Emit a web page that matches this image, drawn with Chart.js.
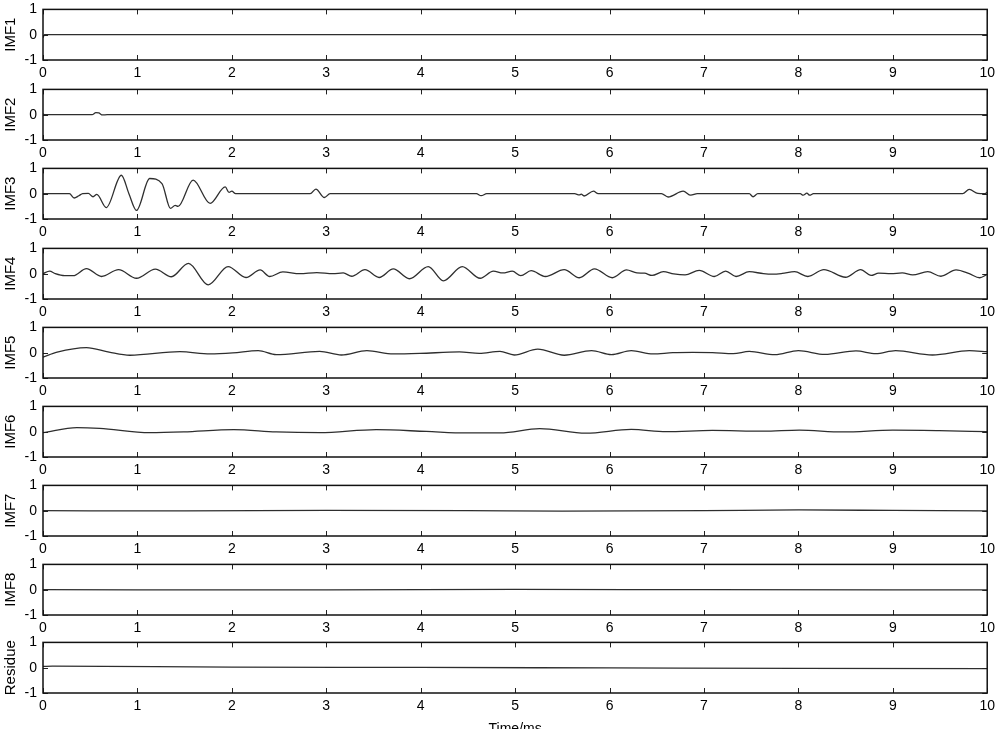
<!DOCTYPE html>
<html>
<head>
<meta charset="utf-8">
<script src="https://cdn.jsdelivr.net/npm/chart.js@4/dist/chart.umd.min.js"></script>
<style>
  html, body { margin: 0; padding: 0; background: #fff; overflow: hidden; width: 1000px; height: 729px; }
  canvas { position: absolute; left: 0; }
</style>
</head>
<body>
<script>
// panel names and ticks
const panelNames = ["IMF1", "IMF2", "IMF3", "IMF4", "IMF5", "IMF6", "IMF7", "IMF8", "Residue"];
const xTicks = [0, 1, 2, 3, 4, 5, 6, 7, 8, 9, 10];
const yTicks = [-1, 0, 1];
const xTitle = "Time/ms";

// [time (ms), amplitude]
const imf1 = [[0, -0.12], [0.015, 0], [10, 0]];
const imf2 = [[0, 0.03], [0.02, 0], [0.52, 0], [0.56, 0.08], [0.59, 0.07], [0.63, -0.01], [0.68, 0], [10, 0]];
const imf3 = [[0, 0], [0.28, 0], [0.33, -0.17], [0.38, -0.08], [0.42, 0], [0.48, 0.01], [0.53, -0.12], [0.57, -0.03],
  [0.67, -0.55], [0.83, 0.73], [0.91, 0], [0.99, -0.66], [1.13, 0.6], [1.26, 0.4], [1.35, -0.58], [1.40, -0.46],
  [1.43, -0.5], [1.59, 0.54], [1.77, -0.38], [1.93, 0.27], [1.97, 0.05], [2.0, 0.1], [2.04, 0], [2.83, 0],
  [2.89, 0.18], [2.98, -0.15], [3.04, 0], [4.59, 0], [4.64, -0.08], [4.70, 0], [5.63, 0], [5.68, -0.05],
  [5.70, -0.02], [5.73, -0.09], [5.83, 0.1], [5.88, 0], [6.55, 0], [6.62, -0.13], [6.78, 0.1], [6.86, -0.06],
  [6.93, 0], [7.48, 0], [7.52, -0.12], [7.57, 0], [8.02, 0], [8.05, -0.06], [8.09, 0.02], [8.12, -0.06],
  [8.16, 0], [9.74, 0], [9.81, 0.17], [9.90, 0.01], [9.97, 0], [10, 0.05]];
const imf4 = [[0, 0], [0.07, 0.1], [0.13, 0], [0.23, -0.08], [0.32, -0.08], [0.46, 0.2], [0.62, -0.11], [0.80, 0.16],
  [0.99, -0.18], [1.19, 0.18], [1.36, -0.12], [1.54, 0.41], [1.75, -0.44], [1.96, 0.28], [2.15, -0.15], [2.30, 0.15],
  [2.40, -0.11], [2.54, 0.07], [2.72, 0], [2.90, 0.04], [3.07, 0], [3.18, 0.03], [3.27, -0.1], [3.41, 0.16],
  [3.56, -0.15], [3.71, 0.19], [3.88, -0.2], [4.08, 0.28], [4.24, -0.28], [4.44, 0.28], [4.63, -0.18], [4.77, 0.1],
  [4.87, 0.03], [4.97, 0.1], [5.06, -0.08], [5.17, 0.12], [5.32, -0.11], [5.52, 0.16], [5.68, -0.16], [5.84, 0.19],
  [6.03, -0.16], [6.18, 0.15], [6.29, 0.03], [6.37, 0.02], [6.45, -0.07], [6.57, 0.08], [6.68, -0.01], [6.80, -0.05],
  [6.95, 0.13], [7.11, -0.11], [7.23, 0.1], [7.34, -0.11], [7.48, 0.08], [7.63, 0], [7.73, -0.02], [7.83, 0.01],
  [7.96, 0.08], [8.10, -0.11], [8.27, 0.16], [8.50, -0.14], [8.66, 0.16], [8.77, -0.07], [8.85, 0.02], [8.98, 0],
  [9.10, 0.03], [9.21, -0.05], [9.37, 0.08], [9.51, -0.1], [9.67, 0.15], [9.81, 0], [9.92, -0.16], [10, -0.03]];
const imf5 = [[0, -0.18], [0.15, 0.02], [0.46, 0.2], [0.70, 0.02], [0.92, -0.1], [1.45, 0.04], [1.77, -0.05],
  [2.01, -0.01], [2.28, 0.08], [2.47, -0.08], [2.93, 0.05], [3.16, -0.09], [3.43, 0.08], [3.71, -0.05],
  [3.99, -0.03], [4.41, 0.03], [4.62, -0.03], [4.84, 0.05], [4.99, -0.09], [5.24, 0.14], [5.52, -0.1],
  [5.81, 0.08], [6.02, -0.08], [6.23, 0.08], [6.46, -0.05], [6.67, 0], [6.88, 0.01], [7.09, 0], [7.31, -0.04],
  [7.48, 0.05], [7.75, -0.08], [8.0, 0.08], [8.28, -0.07], [8.61, 0.07], [8.82, -0.04], [9.03, 0.08],
  [9.42, -0.09], [9.81, 0.08], [10, 0.04]];
const imf6 = [[0, -0.04], [0.36, 0.16], [0.6, 0.13], [1.13, -0.04], [1.49, -0.01], [2.02, 0.08], [2.47, -0.01],
  [2.93, -0.04], [3.53, 0.08], [4.06, 0.01], [4.48, -0.05], [4.84, -0.05], [5.26, 0.12], [5.75, -0.06],
  [6.23, 0.09], [6.60, 0], [7.09, 0.05], [7.63, 0.02], [8.01, 0.06], [8.47, -0.01], [9.0, 0.06], [9.49, 0.04], [10, 0]];
const imf7 = [[0, 0], [1.5, -0.01], [3, 0.01], [4.5, 0], [5.5, -0.02], [7, 0], [8, 0.03], [9, 0.01], [10, -0.01]];
const imf8 = [[0, 0], [3, -0.01], [5, 0.01], [7, 0], [10, -0.01]];
const residue = [[0, 0.05], [0.1, 0.06], [2, 0.02], [4, 0.01], [6, -0.01], [8, -0.03], [10, -0.04]];

const series = [imf1, imf2, imf3, imf4, imf5, imf6, imf7, imf8, residue];

// layout of the stacked panels (page pixels)
const plotTops = [7, 87, 166, 246, 325, 404, 483, 562, 640];
const plotH = 53;
const PAD_TOP = 12;
const AXIS_W = 43;
const PAD_RIGHT = 12;
const XLAB_H = 22;
const LAST_XAXIS_H = 45;

// MATLAB-style box with inward tick marks
const boxPlugin = {
  id: "box",
  afterDatasetsDraw(chart) {
    const { ctx, chartArea: a, scales } = chart;
    ctx.save();
    ctx.strokeStyle = "#222";
    ctx.lineWidth = 1;
    ctx.beginPath();
    xTicks.forEach(v => {
      const x = Math.round(scales.x.getPixelForValue(v)) + 0.5;
      ctx.moveTo(x, a.top); ctx.lineTo(x, a.top + 5);
      ctx.moveTo(x, a.bottom); ctx.lineTo(x, a.bottom - 5);
    });
    yTicks.forEach(v => {
      const y = Math.round(scales.y.getPixelForValue(v)) + 0.5;
      ctx.moveTo(a.left, y); ctx.lineTo(a.left + 5, y);
      ctx.moveTo(a.right, y); ctx.lineTo(a.right - 5, y);
    });
    ctx.stroke();
    ctx.strokeStyle = "#111";
    ctx.lineWidth = 1.5;
    ctx.strokeRect(a.left, a.top, a.width, a.height);
    ctx.restore();
  }
};

Chart.defaults.font.family = "'Liberation Sans', Arial, sans-serif";
Chart.defaults.color = "#000";

series.forEach((pts, i) => {
  const last = i === series.length - 1;
  const xAxisH = last ? LAST_XAXIS_H : XLAB_H;
  const canvas = document.createElement("canvas");
  canvas.width = 1000;
  canvas.height = PAD_TOP + plotH + xAxisH;
  canvas.style.top = (plotTops[i] - PAD_TOP) + "px";
  document.body.appendChild(canvas);

  new Chart(canvas.getContext("2d"), {
    type: "line",
    data: {
      datasets: [{
        data: pts.map(p => ({ x: p[0], y: p[1] })),
        borderColor: "#2e2e2e",
        borderWidth: 1.3,
        pointRadius: 0,
        cubicInterpolationMode: "monotone",
        fill: false
      }]
    },
    options: {
      responsive: false,
      animation: false,
      events: [],
      layout: { padding: { top: PAD_TOP, right: PAD_RIGHT, left: 0, bottom: 0 } },
      plugins: { legend: { display: false }, tooltip: { enabled: false } },
      scales: {
        x: {
          type: "linear",
          min: 0, max: 10,
          afterBuildTicks: axis => { axis.ticks = xTicks.map(v => ({ value: v })); },
          afterFit: axis => { axis.height = xAxisH; },
          grid: { display: false, drawTicks: false },
          border: { display: false },
          ticks: { padding: 5, font: { size: 14 }, maxRotation: 0, autoSkip: false },
          title: { display: last, text: xTitle, font: { size: 14 }, padding: { top: 0, bottom: 0 } }
        },
        y: {
          min: -1, max: 1,
          afterBuildTicks: axis => { axis.ticks = yTicks.map(v => ({ value: v })); },
          afterFit: axis => { axis.width = AXIS_W; },
          grid: { display: false, drawTicks: false },
          border: { display: false },
          ticks: { padding: 6, font: { size: 14 } },
          title: { display: true, text: panelNames[i], font: { size: 15 }, padding: { top: 2, bottom: 0 } }
        }
      }
    },
    plugins: [boxPlugin]
  });
});
</script>
</body>
</html>
